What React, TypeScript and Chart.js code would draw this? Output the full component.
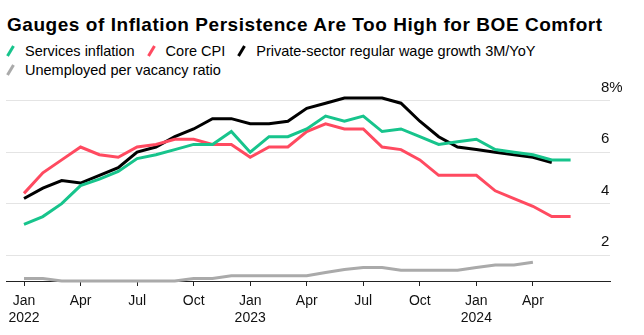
import React, { useEffect, useRef } from "react";
import { Chart, registerables } from "chart.js";

Chart.register(...registerables);

const TITLE = "Gauges of Inflation Persistence Are Too High for BOE Comfort";

// month index 0 = Jan 2022
const monthNames = ["Jan", "Feb", "Mar", "Apr", "May", "Jun", "Jul", "Aug", "Sep", "Oct", "Nov", "Dec"];
const startYear = 2022;
const tickMonths = [0, 3, 6, 9, 12, 15, 18, 21, 24, 27];
const yTicks = [2, 4, 6, 8];

const servicesInflation = [3.2, 3.5, 4.0, 4.7, 4.95, 5.25, 5.75, 5.9, 6.1, 6.3, 6.3, 6.8, 6.0, 6.6, 6.6, 6.9, 7.4, 7.2, 7.4, 6.8, 6.9, 6.6, 6.3, 6.4, 6.5, 6.1, 6.0, 5.9, 5.7, 5.7];
const coreCPI = [4.4, 5.2, 5.7, 6.2, 5.9, 5.8, 6.2, 6.3, 6.5, 6.5, 6.3, 6.3, 5.8, 6.2, 6.2, 6.8, 7.1, 6.9, 6.9, 6.2, 6.1, 5.7, 5.1, 5.1, 5.1, 4.5, 4.2, 3.9, 3.5, 3.5];
const wageGrowth = [4.2, 4.6, 4.9, 4.8, 5.1, 5.4, 6.0, 6.2, 6.6, 6.9, 7.3, 7.3, 7.1, 7.1, 7.2, 7.7, 7.9, 8.1, 8.1, 8.1, 7.9, 7.2, 6.6, 6.2, 6.1, 6.0, 5.9, 5.8, 5.6];
const unemployedPerVacancy = [1.1, 1.1, 1.0, 1.0, 1.0, 1.0, 1.0, 1.0, 1.0, 1.1, 1.1, 1.2, 1.2, 1.2, 1.2, 1.2, 1.33, 1.45, 1.52, 1.52, 1.42, 1.42, 1.42, 1.42, 1.52, 1.62, 1.62, 1.73];

const seriesNames = ["Services inflation", "Core CPI", "Private-sector regular wage growth 3M/YoY", "Unemployed per vacancy ratio"];
const seriesColors = ["#17c48c", "#ff4a60", "#000000", "#aaaaaa"];
const seriesData = [servicesInflation, coreCPI, wageGrowth, unemployedPerVacancy];

const FONT = "'Liberation Sans', Arial, sans-serif";

function toPoints(arr: number[]) {
  return arr.map((v, i) => ({ x: i, y: v }));
}

function yLabel(v: number) {
  return v === 8 ? "8%" : String(v);
}

const yLabelPlugin = {
  id: "yLabelPlugin",
  afterDraw(chart: any) {
    const ctx = chart.ctx;
    const ys = chart.scales.y;
    ctx.save();
    ctx.font = `15px ${FONT}`;
    ctx.fillStyle = "#111";
    ctx.textAlign = "left";
    ctx.textBaseline = "middle";
    yTicks.forEach((v) => {
      const py = ys.getPixelForValue(v);
      ctx.fillText(yLabel(v), chart.chartArea.right - 9, py - 13);
    });
    ctx.restore();
  },
};

function LegendMark({ color }: { color: string }) {
  return (
    <svg width="9" height="12" style={{ display: "inline-block", marginRight: 10, verticalAlign: "-1px" }}>
      <line x1="1.5" y1="11" x2="7.5" y2="1" stroke={color} strokeWidth="3" />
    </svg>
  );
}

export default function App() {
  const ref = useRef<HTMLCanvasElement | null>(null);

  useEffect(() => {
    if (!ref.current) return;
    const chart = new Chart(ref.current, {
      type: "line",
      data: {
        datasets: seriesData.map((d, i) => ({
          label: seriesNames[i],
          data: toPoints(d),
          borderColor: seriesColors[i],
          backgroundColor: seriesColors[i],
          borderWidth: 3,
          pointRadius: 0,
          tension: 0,
          clip: false as any,
          order: i,
        })),
      },
      options: {
        animation: false,
        responsive: false,
        maintainAspectRatio: false,
        layout: { padding: { left: 6, right: 0, top: 0, bottom: 0 } },
        plugins: { legend: { display: false }, tooltip: { enabled: false }, title: { display: false } },
        scales: {
          x: {
            type: "linear",
            min: -0.955,
            max: 31.09,
            afterBuildTicks: (scale: any) => {
              scale.ticks = tickMonths.map((v) => ({ value: v }));
            },
            afterFit: (scale: any) => {
              scale.height = 54;
            },
            grid: { drawOnChartArea: false, drawTicks: true, tickLength: 5, color: "#222", lineWidth: 1 },
            border: { display: true, color: "#222", width: 1 },
            ticks: {
              autoSkip: false,
              maxRotation: 0,
              padding: 7,
              color: "#111",
              font: { family: FONT, size: 14 },
              callback: (v: any) => {
                const m = Math.round(Number(v));
                const name = monthNames[((m % 12) + 12) % 12];
                if (m % 12 === 0) return [name, String(startYear + m / 12)];
                return name;
              },
            },
          },
          y: {
            type: "linear",
            position: "right",
            min: 1,
            max: 8.8,
            afterBuildTicks: (scale: any) => {
              scale.ticks = yTicks.map((v) => ({ value: v }));
            },
            afterFit: (scale: any) => {
              scale.width = 34;
            },
            grid: { drawOnChartArea: true, drawTicks: false, color: "#e4e4e4", lineWidth: 1 },
            border: { display: false },
            ticks: { display: false },
          },
        },
      },
      plugins: [yLabelPlugin],
    });
    return () => chart.destroy();
  }, []);

  return (
    <div style={{ position: "absolute", left: 0, top: 0, width: 644, height: 335, background: "#fff", fontFamily: FONT, color: "#000" }}>
      <div style={{ position: "absolute", left: 7, top: 14, fontSize: 19, lineHeight: "22px", fontWeight: 700, letterSpacing: "0.55px", whiteSpace: "nowrap" }}>
        {TITLE}
      </div>
      <div style={{ position: "absolute", left: 6, top: 42, width: 630, display: "flex", flexWrap: "wrap", fontSize: 14.5, lineHeight: "19px" }}>
        {seriesNames.map((n, i) => (
          <span key={n} style={{ marginRight: 12, whiteSpace: "nowrap" }}>
            <LegendMark color={seriesColors[i]} />
            {n}
          </span>
        ))}
      </div>
      <canvas ref={ref} width={644} height={255} style={{ position: "absolute", left: 0, top: 80, width: 644, height: 255 }} />
    </div>
  );
}
